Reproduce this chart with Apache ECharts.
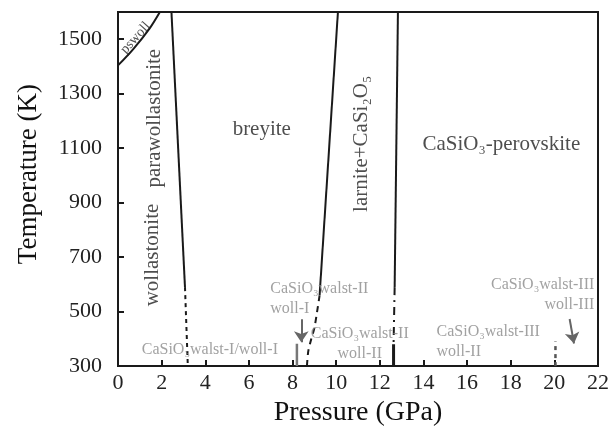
<!DOCTYPE html>
<html><head><meta charset="utf-8">
<script src="https://cdn.jsdelivr.net/npm/echarts@6/dist/echarts.min.js"></script>
<style>html,body{margin:0;padding:0;background:#fff}#c{width:612px;height:432px}</style>
</head><body><div id="c"></div>
<script>
// Phase boundaries (P in GPa, T in K)
const pswollP = [0, 0.7, 1.46, 1.92];
const pswollT = [1404, 1464, 1541, 1600];
const b1SolidP = [2.45, 3.07];
const b1SolidT = [1600, 590];
const b1DashP = [3.07, 3.2];
const b1DashT = [590, 300];
const b2SolidP = [10.08, 9.24];
const b2SolidT = [1600, 560];
const b2DashP = [9.24, 9.12, 9.0, 8.86, 8.72, 8.66];
const b2DashT = [560, 497, 440, 400, 354, 300];
const b3SolidP = [12.83, 12.68];
const b3SolidT = [1600, 590];
const b3DashP = [12.68, 12.63];
const b3DashT = [590, 380];
const b3ThickP = [12.63, 12.63];
const b3ThickT = [380, 300];
// experimental markers
const mark1P = [8.2, 8.2];   const mark1T = [300, 382];
const mark20P = [20.05, 20.05]; const mark20T = [300, 390];
const arrow1 = [[8.4, 472], [8.4, 388]];
const arrow2 = [[20.7, 473], [20.9, 383]];
// axis ticks
const xTicks = [0,2,4,6,8,10,12,14,16,18,20,22];
const yTicks = [300,500,700,900,1100,1300,1500];
// phase labels
const phaseText = ['pswoll','wollastonite','parawollastonite','breyite','larnite+CaSi₂O₅','CaSiO₃-perovskite'];
const phaseP = [0.8, 1.6, 1.69, 6.59, 11.17, 17.57];
const phaseT = [1505, 708, 1210, 1167, 1116, 1113];
const phaseRot = [48, 90, 90, 0, 90, 0];
// experiment labels
const expText = ['CaSiO₃walst-I/woll-I','CaSiO₃walst-II\nwoll-I','CaSiO₃walst-II\nwoll-II','CaSiO₃walst-III\nwoll-II','CaSiO₃walst-III\nwoll-III'];
const expP = [4.21, 6.98, 11.08, 14.6, 21.83];
const expT = [361, 547, 382, 390, 561];
const expAlign = ['center','left','center','left','right'];

const zip = (a,b)=>a.map((v,i)=>[v,b[i]]);
const FONT = '"Liberation Serif","Times New Roman",serif';
const DARK = '#1a1a1a', GRAY = '#8a8a8a';

function line(P,T,opt){
  return Object.assign({type:'line', data:zip(P,T), symbol:'none', smooth:false, silent:true,
    lineStyle:{color:DARK,width:2}, z:3}, opt||{});
}

const series = [
  line(pswollP,pswollT,{smooth:0.3}),
  line(b1SolidP,b1SolidT),
  line(b1DashP,b1DashT,{lineStyle:{color:DARK,width:2,type:[4,4]}}),
  line(b2SolidP,b2SolidT),
  line(b2DashP,b2DashT,{smooth:0.3,lineStyle:{color:DARK,width:2,type:[6,5]}}),
  line(b3SolidP,b3SolidT),
  line(b3DashP,b3DashT,{lineStyle:{color:DARK,width:2,type:[8,5,2,5]}}),
  line(b3ThickP,b3ThickT,{lineStyle:{color:DARK,width:3}}),
  line(mark1P,mark1T,{lineStyle:{color:'#777',width:2.5}}),
  line(mark20P,mark20T,{lineStyle:{color:'#555',width:2.5,type:[4,4]}}),
  {type:'line', data:[], silent:true,
   markLine:{silent:true, symbol:['none','arrow'], symbolSize:11, label:{show:false},
     lineStyle:{color:'#666',width:2,type:'solid'},
     data:[[{coord:arrow1[0]},{coord:arrow1[1]}],[{coord:arrow2[0]},{coord:arrow2[1]}]]}},
  {type:'scatter', silent:true, symbolSize:0, z:5,
   data: phaseText.map((t,i)=>({value:[phaseP[i],phaseT[i]],
     label:{show:true, position:'inside', formatter:t, rotate:phaseRot[i],
       fontFamily:FONT, fontSize: i===0?14:21, color:'#222'}}))},
  {type:'scatter', silent:true, symbolSize:0, z:5,
   data: expText.map((t,i)=>({value:[expP[i],expT[i]],
     label:{show:true, position:'inside', formatter:t, align:expAlign[i], verticalAlign:'middle',
       fontFamily:FONT, fontSize:16, lineHeight:20, color:GRAY}}))}
];

const chart = echarts.init(document.getElementById('c'),null,{renderer:'canvas'});
chart.setOption({
  backgroundColor:'#fff',
  animation:false,
  grid:{left:118,right:12,top:12,bottom:57,show:true,borderColor:DARK,borderWidth:2,backgroundColor:'transparent'},
  xAxis:{type:'value',min:0,max:22,interval:2,
    name:'Pressure (GPa)',nameLocation:'middle',nameGap:27,
    nameTextStyle:{fontFamily:FONT,fontSize:28,color:'#111'},
    axisLine:{show:true,onZero:false,lineStyle:{color:DARK,width:2}},
    axisTick:{show:true,inside:true,length:6,lineStyle:{color:DARK,width:2}},
    axisLabel:{fontFamily:FONT,fontSize:22,color:'#222',margin:6,
      formatter:v=>xTicks.includes(v)?String(v):''},
    splitLine:{show:false}},
  yAxis:{type:'value',min:300,max:1600,interval:200,
    name:'Temperature (K)',nameLocation:'middle',nameGap:76,
    nameTextStyle:{fontFamily:FONT,fontSize:27,color:'#111',padding:[0,0,0,30]},
    axisLine:{show:true,onZero:false,lineStyle:{color:DARK,width:2}},
    axisTick:{show:true,inside:true,length:6,lineStyle:{color:DARK,width:2}},
    axisLabel:{fontFamily:FONT,fontSize:22,color:'#222',margin:16,
      formatter:v=>yTicks.includes(v)?String(v):''},
    splitLine:{show:false}},
  series
});
</script></body></html>
